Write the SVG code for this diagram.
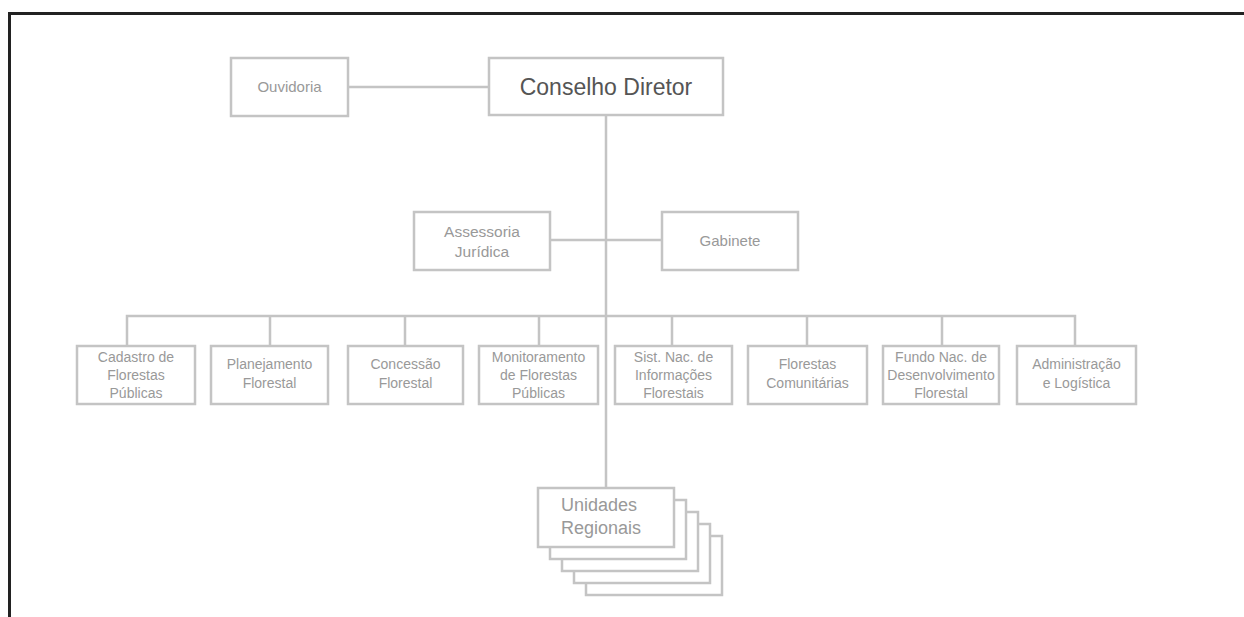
<svg xmlns="http://www.w3.org/2000/svg" width="1244" height="617" viewBox="0 0 1244 617">
<style>
.box{fill:#fff;stroke:#c4c4c4;stroke-width:2.5}
.ln{stroke:#c4c4c4;stroke-width:2.5;fill:none}
.t{font-family:"Liberation Sans",Arial,sans-serif;fill:#999;text-anchor:middle}
.s{font-size:14px}
.m{font-size:15.5px}
</style>
<rect width="1244" height="617" fill="#fff"/>
<path d="M9.5 617 V13.5 H1244" fill="none" stroke="#222" stroke-width="3"/>
<g id="connectors">
<line class="ln" x1="348" y1="87" x2="489" y2="87"/>
<line class="ln" x1="606" y1="116" x2="606" y2="488" stroke-width="3.5"/>
<line class="ln" x1="550" y1="240" x2="662" y2="240"/>
<path class="ln" d="M127 346 V316 H1075 V346"/>
<path class="ln" d="M270 316 V346 M405 316 V346 M539 316 V346 M672 316 V346 M807 316 V346 M942 316 V346"/>
</g>
<g id="ouvidoria"><rect class="box" x="231" y="58" width="117" height="58"/><text class="t" x="289.5" y="92" font-size="15">Ouvidoria</text></g>
<g id="conselho"><rect class="box" x="489" y="58" width="234" height="57"/><text class="t" x="606" y="95" font-size="23" style="fill:#555">Conselho Diretor</text></g>
<g id="assessoria"><rect class="box" x="414" y="212" width="136" height="58"/><text class="t m" x="482" y="237">Assessoria</text><text class="t m" x="482" y="257">Jurídica</text></g>
<g id="gabinete"><rect class="box" x="662" y="212" width="136" height="58"/><text class="t" x="730" y="246" font-size="15">Gabinete</text></g>
<g id="cadastro"><rect class="box" x="77" y="346" width="118" height="58"/><text class="t s" x="136" y="362">Cadastro de</text><text class="t s" x="136" y="380">Florestas</text><text class="t s" x="136" y="398">Públicas</text></g>
<g id="planejamento"><rect class="box" x="211" y="346" width="117" height="58"/><text class="t s" x="269.5" y="369">Planejamento</text><text class="t s" x="269.5" y="388">Florestal</text></g>
<g id="concessao"><rect class="box" x="348" y="346" width="115" height="58"/><text class="t s" x="405.5" y="369">Concessão</text><text class="t s" x="405.5" y="388">Florestal</text></g>
<g id="monitoramento"><rect class="box" x="479" y="346" width="119" height="58"/><text class="t s" x="538.5" y="362">Monitoramento</text><text class="t s" x="538.5" y="380">de Florestas</text><text class="t s" x="538.5" y="398">Públicas</text></g>
<g id="sistnac"><rect class="box" x="615" y="346" width="117" height="58"/><text class="t s" x="673.5" y="362">Sist. Nac. de</text><text class="t s" x="673.5" y="380">Informações</text><text class="t s" x="673.5" y="398">Florestais</text></g>
<g id="comunitarias"><rect class="box" x="748" y="346" width="119" height="58"/><text class="t s" x="807.5" y="369">Florestas</text><text class="t s" x="807.5" y="388">Comunitárias</text></g>
<g id="fundo"><rect class="box" x="883" y="346" width="116" height="58"/><text class="t s" x="941" y="362">Fundo Nac. de</text><text class="t s" x="941" y="380">Desenvolvimento</text><text class="t s" x="941" y="398">Florestal</text></g>
<g id="administracao"><rect class="box" x="1017" y="346" width="119" height="58"/><text class="t s" x="1076.5" y="369">Administração</text><text class="t s" x="1076.5" y="388">e Logística</text></g>
<g id="unidades">
<rect class="box" x="586" y="536" width="136" height="59"/>
<rect class="box" x="574" y="524" width="136" height="59"/>
<rect class="box" x="562" y="512" width="136" height="59"/>
<rect class="box" x="550" y="500" width="136" height="59"/>
<rect class="box" x="538" y="488" width="136" height="59"/>
<text class="t" x="561" y="511" font-size="18" style="text-anchor:start">Unidades</text>
<text class="t" x="561" y="534" font-size="18" style="text-anchor:start">Regionais</text>
</g>
</svg>
